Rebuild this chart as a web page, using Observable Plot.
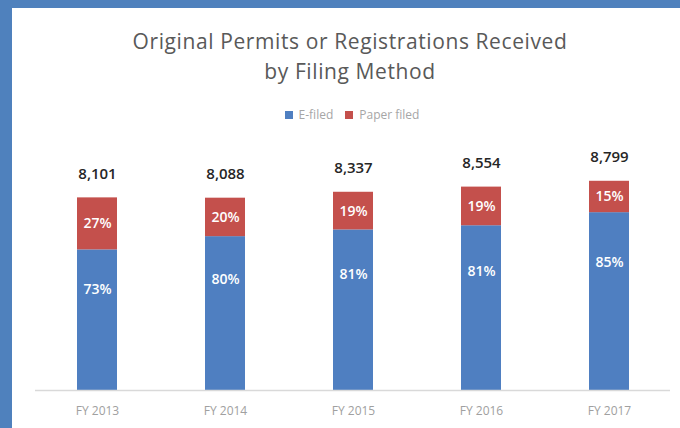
<!DOCTYPE html>
<html>
<head>
<meta charset="utf-8">
<script src="https://cdn.jsdelivr.net/npm/d3@7"></script>
<script src="https://cdn.jsdelivr.net/npm/@observablehq/plot@0.6"></script>
<style>
  html, body { margin: 0; padding: 0; }
  body { width: 680px; height: 428px; background: #4f81bd; position: relative; overflow: hidden; font-family: "Open Sans", sans-serif; }
  #panel { position: absolute; left: 12px; top: 8px; width: 668px; height: 420px; background: #ffffff; }
  #title { position: absolute; left: 0; top: 26px; width: 700px; text-align: center; font-size: 21px; line-height: 30px; letter-spacing: 0.6px; color: #595959; }
  #legend { position: absolute; left: 0; top: 106px; width: 704px; text-align: center; font-size: 12px; color: #a6a6a6; }
  #legend span.sw { display: inline-block; width: 8px; height: 8px; margin-right: 6px; vertical-align: middle; position: relative; top: -1px; }
  #legend span.item { margin: 0 6px; }
  #chart { position: absolute; left: 0; top: 130px; }
</style>
</head>
<body>
<div id="panel"></div>
<div id="title">Original Permits or Registrations Received<br>by Filing Method</div>
<div id="legend"></div>
<div id="chart"></div>
<script>
const years = ["FY 2013", "FY 2014", "FY 2015", "FY 2016", "FY 2017"];
const totals = [8101, 8088, 8337, 8554, 8799];
const eShare = [73, 80, 81, 81, 85];
const paperShare = [27, 20, 19, 19, 15];
const methods = ["E-filed", "Paper filed"];
const colors = ["#4f7fc1", "#c4504c"];

const rows = [];
years.forEach((y, i) => {
  rows.push({year: y, method: methods[0], value: totals[i] * eShare[i] / 100, share: eShare[i]});
  rows.push({year: y, method: methods[1], value: totals[i] * paperShare[i] / 100, share: paperShare[i]});
});
const eRows = years.map((y, i) => ({year: y, e: totals[i] * eShare[i] / 100, share: eShare[i]}));
const pRows = years.map((y, i) => ({year: y, e: totals[i] * eShare[i] / 100, p: totals[i] * paperShare[i] / 100, share: paperShare[i]}));
const totRows = years.map((y, i) => ({year: y, total: totals[i]}));

// legend
const leg = document.getElementById("legend");
leg.innerHTML = methods.map((m, i) => `<span class="item"><span class="sw" style="background:${colors[i]}"></span>${m}</span>`).join("");

const chart = Plot.plot({
  width: 680,
  height: 298,
  marginLeft: 35,
  marginRight: 10,
  marginTop: 46,
  marginBottom: 38,
  style: {background: "transparent", fontFamily: "Open Sans, sans-serif"},
  x: {domain: years, paddingInner: 0.69, paddingOuter: 0.325, label: null, tickSize: 0, tickPadding: 16},
  y: {domain: [0, 9000], axis: null},
  color: {domain: methods, range: colors},
  marks: [
    Plot.barY(rows, {x: "year", y: "value", fill: "method"}),
    Plot.ruleY([0], {stroke: "#d9d9d9", strokeWidth: 1.5}),
    Plot.text(eRows, {x: "year", y: d => d.e * 0.72, text: d => d.share + "%", fill: "white", fontSize: 14, fontWeight: 600}),
    Plot.text(pRows, {x: "year", y: d => d.e + d.p / 2, text: d => d.share + "%", fill: "white", fontSize: 14, fontWeight: 600}),
    Plot.text(totRows, {x: "year", y: "total", text: d => d3.format(",")(d.total), dy: -24, fill: "#262626", fontSize: 15, fontWeight: 600}),
    Plot.axisX({tickSize: 0, tickPadding: 16, fontSize: 12, color: "#a0a0a0", label: null})
  ]
});
document.getElementById("chart").appendChild(chart);
</script>
</body>
</html>
